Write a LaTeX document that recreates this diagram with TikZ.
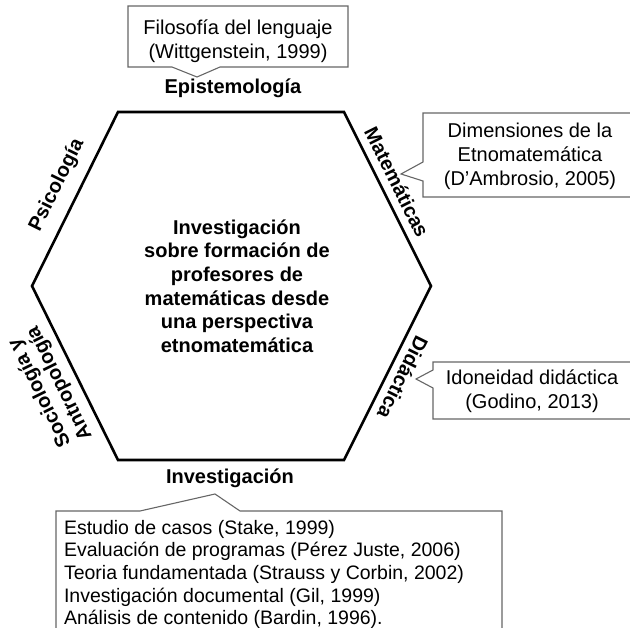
\documentclass[tikz,border=0pt]{standalone}
\usepackage{fontspec}
\setmainfont{Liberation Sans}
\begin{document}
\begin{tikzpicture}[x=1pt,y=-1pt]
\tikzset{ inner sep=0pt, outer sep=0pt,
  hexline/.style={line width=2.6pt, line join=miter},
  boxline/.style={draw=black!60, line width=1.1pt},
  sidelabel/.style={font=\fontsize{20}{22}\selectfont\bfseries, align=center},
  boxtext/.style={font=\fontsize{20}{24}\selectfont, align=center},
}
\useasboundingbox (0,0) rectangle (630,628);

\coordinate (NW) at (118,112);
\coordinate (NE) at (344,112);
\coordinate (E)  at (431,286);
\coordinate (SE) at (344,460);
\coordinate (SW) at (118,460);
\coordinate (W)  at (32,286);

\draw [hexline] (NW) -- (NE) -- (E) -- (SE) -- (SW) -- (W) -- cycle;

\node [sidelabel, font=\fontsize{20}{23.6}\selectfont\bfseries] (centre) at (237,286)
  {Investigación\\sobre formación de\\profesores de\\matemáticas desde\\una perspectiva\\etnomatemática};

% etiquetas de los lados
\node [sidelabel] (epis) at (233,88) {Epistemología};
\node [sidelabel] (inv)  at (230,478) {Investigación};
\node [sidelabel, rotate=63.7]   (psi) at (57,185)  {Psicología};
\node [sidelabel, rotate=-63.4]  (mat) at (397,182) {Matemáticas};
\node [sidelabel, rotate=-116.4] (did) at (403,378) {Didáctica};
\node [sidelabel, rotate=116.3]  (soc) at (50,388)  {Sociología y\\Antropología};

% cuadros
\coordinate (T1) at (197,77);
\draw [boxline] (128,6) -- (348,6) -- (348,67) -- (220,67) -- (T1) -- (172,67) -- (128,67) -- cycle;
\node [boxtext] (wit) at (238,41) {Filosofía del lenguaje\\(Wittgenstein, 1999)};

\coordinate (T2) at (401,174);
\draw [boxline] (640,113) -- (423,113) -- (423,162) -- (T2) -- (423,181) -- (423,197) -- (640,197);
\node [boxtext] (dam) at (530,156) {Dimensiones de la\\Etnomatemática\\(D’Ambrosio, 2005)};

\coordinate (T3) at (416,379);
\draw [boxline] (640,362) -- (433,362) -- (433,370) -- (T3) -- (433,388) -- (433,419) -- (640,419);
\node [boxtext] (god) at (532,391) {Idoneidad didáctica\\(Godino, 2013)};

\coordinate (T4) at (215,494);
\draw [boxline] (56,640) -- (56,511) -- (140,511) -- (T4) -- (240,511) -- (502,511) -- (502,640);
\node [boxtext, align=left, font=\fontsize{19.5}{22.7}\selectfont, anchor=north west] (met) at (64,520)
  {Estudio de casos (Stake, 1999)\\Evaluación de programas (Pérez Juste, 2006)\\Teoria fundamentada (Strauss y Corbin, 2002)\\Investigación documental (Gil, 1999)\\Análisis de contenido (Bardin, 1996).};

\end{tikzpicture}
\end{document}
